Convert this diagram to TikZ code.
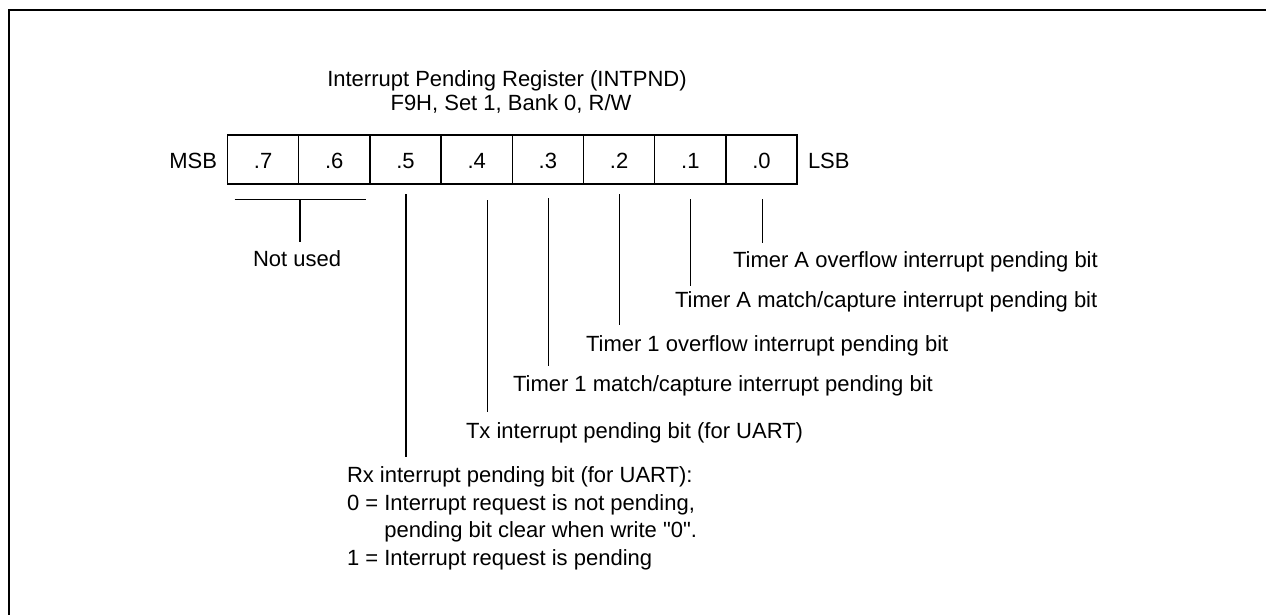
\documentclass[tikz,border=0pt]{standalone}
\usepackage{fontspec}
\setmainfont{Liberation Sans}
\newfontfamily\plainq{Liberation Sans}[Ligatures=TeXOff]
\begin{document}
\begin{tikzpicture}[x=1pt,y=-1pt,
  every node/.style={inner sep=0pt,outer sep=0pt,font=\fontsize{22}{27}\selectfont},
  cell/.style={draw,line width=1.3pt,minimum width=71.2pt,minimum height=49pt},
  lead/.style={line width=1.3pt},
  lbl/.style={anchor=base west}]
\useasboundingbox (0,0) rectangle (1266,614);
% frame
\draw[line width=2pt] (9,620) -- (9,10) -- (1270,10);
% title
\node[anchor=base] (title1) at (507,86.7) {Interrupt Pending Register (INTPND)};
\node[anchor=base] (title2) at (511,110) {F9H, Set 1, Bank 0, R/W};
% register cells
\foreach \i/\b in {0/7,1/6,2/5,3/4,4/3,5/2,6/1,7/0}{
  \node[cell] (c\b) at ({263.1+71.2*\i},159.5) {};
  \node[anchor=base] (t\b) at ({263.1+71.2*\i},168) {.\b};
}
\node[anchor=base east] (msb) at (217,168) {MSB};
\node[anchor=base west] (lsb) at (808,168) {LSB};
% not used
\coordinate (nuL) at (234.7,199.3);
\coordinate (nuR) at (365.7,199.3);
\coordinate (nuT) at (300,199.3);
\coordinate (nuB) at (300,242.3);
\draw[lead] (nuL) -- (nuR);
\draw[lead] (nuT) -- (nuB);
\node[lbl] (nu) at (253,266) {Not used};
% leader lines
\coordinate (a5) at (406,194.3);   \coordinate (b5) at (406,456.7);
\coordinate (a4) at (487.3,200);   \coordinate (b4) at (487.3,412);
\coordinate (a3) at (548.3,198.3); \coordinate (b3) at (548.3,366);
\coordinate (a2) at (619.2,194.3); \coordinate (b2) at (619.2,325);
\coordinate (a1) at (690.7,199);   \coordinate (b1) at (690.7,285.7);
\coordinate (a0) at (762.3,199);   \coordinate (b0) at (762.3,242.7);
\foreach \k in {0,...,5}{\draw[lead] (a\k) -- (b\k);}
% labels
\node[lbl] (l0) at (733,267) {Timer A overflow interrupt pending bit};
\node[lbl] (l1) at (675,307) {Timer A match/capture interrupt pending bit};
\node[lbl] (l2) at (586,351) {Timer 1 overflow interrupt pending bit};
\node[lbl] (l3) at (513,391) {Timer 1 match/capture interrupt pending bit};
\node[lbl] (l4) at (466,438.3) {Tx interrupt pending bit (for UART)};
\node[lbl] (rx1) at (347,482.7) {Rx interrupt pending bit (for UART):};
\node[lbl] (rx2) at (347,510.7) {0 = Interrupt request is not pending,};
\node[lbl] (rx3) at (347,537.5) {\phantom{0 = }pending bit clear when write {\plainq"0"}.};
\node[lbl] (rx4) at (347,565) {1 = Interrupt request is pending};
\end{tikzpicture}
\end{document}
